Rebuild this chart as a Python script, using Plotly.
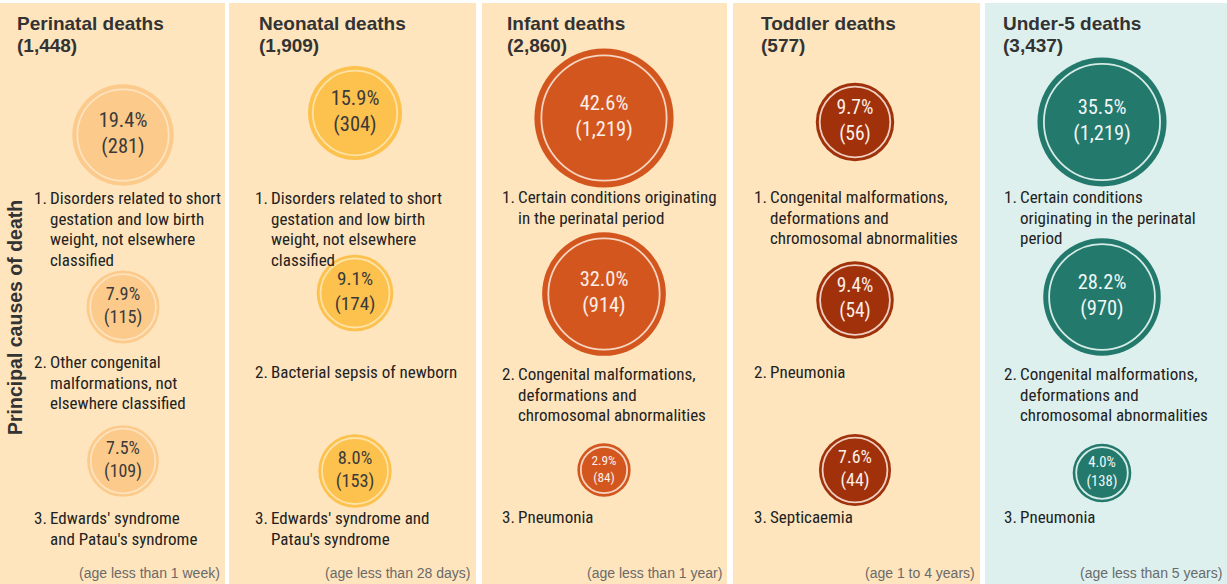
import numpy as np
import plotly.graph_objects as go

# ---------------- data ----------------
panels = ["Perinatal deaths", "Neonatal deaths", "Infant deaths", "Toddler deaths", "Under-5 deaths"]
totals = ["1,448", "1,909", "2,860", "577", "3,437"]
age_notes = ["(age less than 1 week)", "(age less than 28 days)", "(age less than 1 year)",
             "(age 1 to 4 years)", "(age less than 5 years)"]
pct = [[19.4, 7.9, 7.5],
       [15.9, 9.1, 8.0],
       [42.6, 32.0, 2.9],
       [9.7, 9.4, 7.6],
       [35.5, 28.2, 4.0]]
counts = [[281, 115, 109],
          [304, 174, 153],
          [1219, 914, 84],
          [56, 54, 44],
          [1219, 970, 138]]
causes = [
    [["Disorders related to short", "gestation and low birth", "weight, not elsewhere", "classified"],
     ["Other congenital", "malformations, not", "elsewhere classified"],
     ["Edwards' syndrome", "and Patau's syndrome"]],
    [["Disorders related to short", "gestation and low birth", "weight, not elsewhere", "classified"],
     ["Bacterial sepsis of newborn"],
     ["Edwards' syndrome and", "Patau's syndrome"]],
    [["Certain conditions originating", "in the perinatal period"],
     ["Congenital malformations,", "deformations and", "chromosomal abnormalities"],
     ["Pneumonia"]],
    [["Congenital malformations,", "deformations and", "chromosomal abnormalities"],
     ["Pneumonia"],
     ["Septicaemia"]],
    [["Certain conditions", "originating in the perinatal", "period"],
     ["Congenital malformations,", "deformations and", "chromosomal abnormalities"],
     ["Pneumonia"]],
]
side_label = "Principal causes of death"

# ---------------- layout / style ----------------
W, H = 1227, 584
panel_x = [(0, 225), (229, 476), (482, 727), (733, 980), (985, 1227)]
bg = ["#FEE5BD"] * 4 + ["#DDF0EE"]
fill = ["#FCCA8B", "#FDC14E", "#D4561F", "#A0310B", "#24796D"]
ring = ["#FEE3BF", "#FEE2A6", "#F6D5C0", "#EFD0C0", "#D5EBE6"]
txtc = ["#3a3a3a", "#3a3a3a", "#FBEFE8", "#FBEFE8", "#F0F7F5"]
cx = [123, 355, 604, 855, 1102]
cy = [[135, 307, 461], [113, 293, 471], [118, 294, 470], [122, 300, 470], [122, 297, 473]]
ly = [[198, 362, 518], [198, 372, 518], [197, 374, 517], [197, 372, 517], [197, 374, 517]]
lx = [32, 253, 500, 752, 1002]
title_x = [15, 257, 505, 759, 1001]

NARROW = "Liberation Sans Narrow, Roboto Condensed, Arial Narrow, sans-serif"
SANS = "Liberation Sans, Arial, sans-serif"


def radius(p):
    return 11.5 + 8.9 * np.sqrt(p)


fig = go.Figure()
shapes = []
annotations = []

for i in range(5):
    x0, x1 = panel_x[i]
    shapes.append(dict(type="rect", xref="x", yref="y", x0=x0, x1=x1, y0=3, y1=H,
                       fillcolor=bg[i], line=dict(width=0), layer="below"))
    r = np.array([radius(p) for p in pct[i]])
    xs = [cx[i]] * 3
    ys = cy[i]
    # filled discs
    fig.add_trace(go.Scatter(x=xs, y=ys, mode="markers", hoverinfo="skip",
                             marker=dict(size=2 * r, color=fill[i], opacity=1, line=dict(width=0))))
    # inner ring + text
    off = np.maximum(3.5, 0.1 * r)
    fs = np.clip(0.5 * r, 13, 20.5)
    labels = [f"{p:.1f}%<br>({c:,})" for p, c in zip(pct[i], counts[i])]
    fig.add_trace(go.Scatter(x=xs, y=ys, mode="markers+text", hoverinfo="skip",
                             text=labels, textposition="middle center",
                             textfont=dict(family=NARROW, size=list(fs), color=txtc[i]),
                             marker=dict(size=2 * (r - off), color="rgba(0,0,0,0)", opacity=1,
                                         line=dict(width=1.8, color=ring[i]))))
    # titles
    annotations.append(dict(x=title_x[i], y=23, text=f"<b>{panels[i]}</b>", xanchor="left",
                            yanchor="middle", showarrow=False,
                            font=dict(family=SANS, size=19, color="#333333")))
    annotations.append(dict(x=title_x[i], y=45, text=f"<b>({totals[i]})</b>", xanchor="left",
                            yanchor="middle", showarrow=False,
                            font=dict(family=SANS, size=19, color="#333333")))
    # cause labels
    for j, lines in enumerate(causes[i]):
        y0 = ly[i][j]
        annotations.append(dict(x=lx[i], y=y0, text=f"{j + 1}.", xanchor="left", yanchor="middle",
                                showarrow=False, font=dict(family=NARROW, size=17, color="#222222")))
        for k, line in enumerate(lines):
            annotations.append(dict(x=lx[i] + 16, y=y0 + k * 20.5, text=line, xanchor="left",
                                    yanchor="middle", showarrow=False,
                                    font=dict(family=NARROW, size=17, color="#222222")))
    # footer
    annotations.append(dict(x=x1 - 3, y=573, text=age_notes[i], xanchor="right", yanchor="middle",
                            showarrow=False, font=dict(family=SANS, size=14, color="#6a6a6a")))

annotations.append(dict(x=15, y=318, text=f"<b>{side_label}</b>", textangle=-90, showarrow=False,
                        xanchor="center", yanchor="middle",
                        font=dict(family=SANS, size=19.5, color="#333333")))

fig.update_layout(
    width=W, height=H, margin=dict(l=0, r=0, t=0, b=0),
    paper_bgcolor="white", plot_bgcolor="white", showlegend=False,
    xaxis=dict(range=[0, W], visible=False, fixedrange=True),
    yaxis=dict(range=[H, 0], visible=False, fixedrange=True),
    shapes=shapes, annotations=annotations,
)

fig.write_html("out.html", config={"displayModeBar": False},
               post_script="document.body.style.margin='0';document.body.style.overflow='hidden';")
